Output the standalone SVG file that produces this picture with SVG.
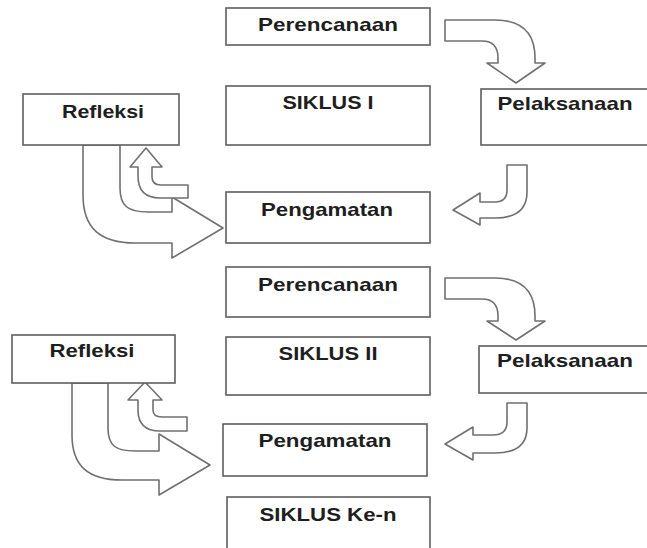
<svg xmlns="http://www.w3.org/2000/svg" width="647" height="548" viewBox="0 0 647 548">
<style>
.box{fill:#fff;stroke:#5e5e5e;stroke-width:1.6}
.arr{fill:#fff;stroke:#707070;stroke-width:1.6;stroke-linejoin:round}
.t{font-family:"Liberation Sans",Arial,sans-serif;font-weight:bold;font-size:19px;fill:#1e1e1e;text-anchor:middle}
</style>
<rect width="647" height="548" fill="#fff"/>
<g id="connectors">
<path class="arr" d="M445,20 L495,20 Q535,20 535,58 L535,63 L545,63 L516,83 L487,63 L498,63 L498,58 Q498,41 482,41 L445,41 Z"/>
<path class="arr" d="M507,165 L527,165 L527,192 Q527,218 495,218 L480,218 L480,225 L453,210 L480,193 L480,202 L495,202 Q507,202 507,190 Z"/>
<path class="arr" d="M83,145 L120,145 L120,188 C120,206 128,212 148,212 L172,212 L172,197 L223,228 L172,258 L172,243 L135,243 C100,243 83,228 83,195 Z"/>
<path class="arr" d="M146,148 L162,167 L152,167 L152,177 Q152,185 161,185 L188,185 L188,198 L160,198 Q138,198 138,176 L138,167 L130,167 Z"/>
<path class="arr" d="M445,278 L495,278 Q535,278 535,316 L535,321 L545,321 L516,340 L487,321 L498,321 L498,316 Q498,299 482,299 L445,299 Z"/>
<path class="arr" d="M507,403 L527,403 L527,428 Q527,453 495,453 L473,453 L473,460 L445,444 L473,427 L473,435 L493,435 Q507,435 507,422 Z"/>
<path class="arr" d="M72,383 L108,383 L108,428 C108,446 116,451 135,451 L159,451 L159,434 L210,465 L159,495 L159,480 L122,480 C88,480 72,466 72,435 Z"/>
<path class="arr" d="M145,382 L162,400 L153,400 L153,410 Q153,417 162,417 L187,417 L187,431 L160,431 Q138,431 138,410 L138,400 L128,400 Z"/>
</g>
<g id="perencanaan1"><rect class="box" x="226" y="8" width="204" height="37"/><text class="t" x="328" y="31" textLength="140" lengthAdjust="spacingAndGlyphs">Perencanaan</text></g>
<g id="siklus1"><rect class="box" x="226" y="86" width="204" height="59"/><text class="t" x="328" y="109" textLength="91" lengthAdjust="spacingAndGlyphs">SIKLUS I</text></g>
<g id="pelaksanaan1"><rect class="box" x="481" y="89" width="180" height="56"/><text class="t" x="565" y="110" textLength="135" lengthAdjust="spacingAndGlyphs">Pelaksanaan</text></g>
<g id="refleksi1"><rect class="box" x="23" y="94" width="156" height="51"/><text class="t" x="103" y="118" textLength="82" lengthAdjust="spacingAndGlyphs">Refleksi</text></g>
<g id="pengamatan1"><rect class="box" x="226" y="192" width="204" height="51"/><text class="t" x="327" y="216" textLength="132" lengthAdjust="spacingAndGlyphs">Pengamatan</text></g>
<g id="perencanaan2"><rect class="box" x="226" y="267" width="204" height="50"/><text class="t" x="328" y="291" textLength="140" lengthAdjust="spacingAndGlyphs">Perencanaan</text></g>
<g id="siklus2"><rect class="box" x="226" y="337" width="204" height="58"/><text class="t" x="328" y="360" textLength="99" lengthAdjust="spacingAndGlyphs">SIKLUS II</text></g>
<g id="pelaksanaan2"><rect class="box" x="479" y="346" width="182" height="47"/><text class="t" x="565" y="367" textLength="136" lengthAdjust="spacingAndGlyphs">Pelaksanaan</text></g>
<g id="refleksi2"><rect class="box" x="12" y="335" width="163" height="48"/><text class="t" x="92" y="357" textLength="85" lengthAdjust="spacingAndGlyphs">Refleksi</text></g>
<g id="pengamatan2"><rect class="box" x="223" y="424" width="204" height="52"/><text class="t" x="325" y="447" textLength="133" lengthAdjust="spacingAndGlyphs">Pengamatan</text></g>
<g id="siklusn"><rect class="box" x="227" y="497" width="203" height="60"/><text class="t" x="328" y="521" textLength="137" lengthAdjust="spacingAndGlyphs">SIKLUS Ke-n</text></g>
</svg>
